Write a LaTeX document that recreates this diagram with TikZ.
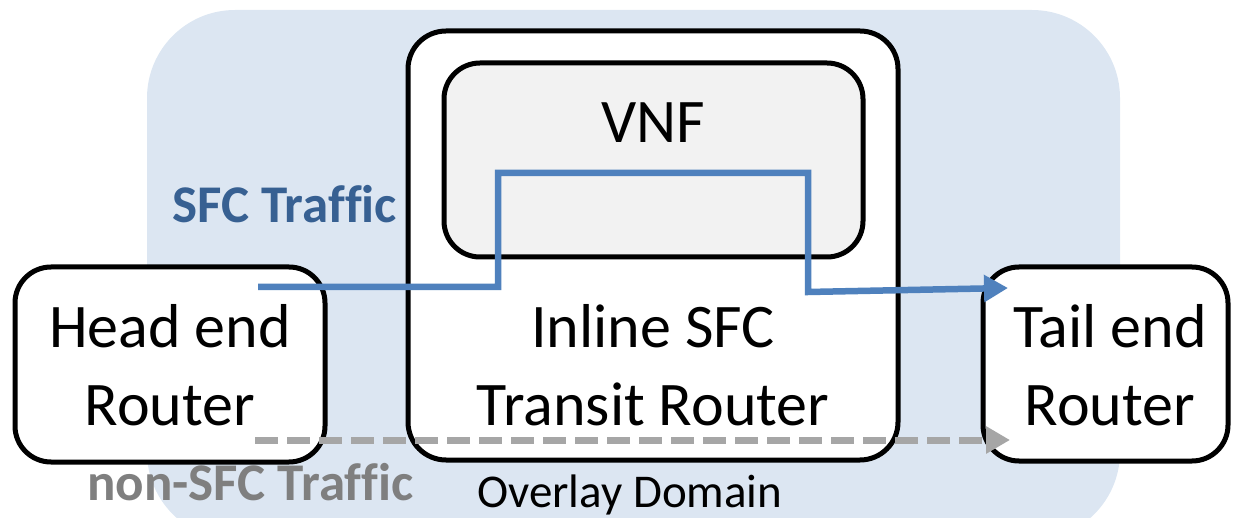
\documentclass[tikz,border=0pt]{standalone}
\usepackage{fontspec}
\setmainfont{Carlito}[Ligatures=CommonOff]
\usetikzlibrary{arrows.meta}

\definecolor{domainfill}{HTML}{DCE6F2}
\definecolor{vnffill}{HTML}{F2F2F2}
\definecolor{sfcblue}{HTML}{4F81BD}
\definecolor{sfctext}{HTML}{376092}
\definecolor{plaingray}{HTML}{A6A6A6}
\definecolor{plaintext}{HTML}{7F7F7F}

\tikzset{
  box/.style={draw=black, line width=5pt, fill=white, inner sep=0pt},
  lbl/.style={font=\fontsize{62}{77}\selectfont, anchor=base, inner sep=0pt},
  tag/.style={font=\fontsize{53}{62}\selectfont\bfseries, anchor=base west, inner sep=0pt},
  sfcpath/.style={draw=sfcblue, line width=6.5pt, -{Triangle[length=24pt,width=26pt]}},
  plainpath/.style={draw=plaingray, line width=7pt, dash pattern=on 23pt off 9pt,
    -{Triangle[length=24pt,width=26pt]}}
}

\begin{document}
\begin{tikzpicture}[x=1pt, y=-1pt]
  \useasboundingbox (0,0) rectangle (1234,518);
  \clip (0,0) rectangle (1234,518);

  % overlay domain backdrop
  \fill[domainfill, rounded corners=88pt] (147,10) rectangle (1120,540);

  % routers
  \node[box, rounded corners=38pt, minimum width=490pt, minimum height=429pt]
    (transit) at (653,245.5) {};
  \node[box, fill=vnffill, rounded corners=36pt, minimum width=419pt, minimum height=194pt]
    (vnf) at (653.5,160) {};
  \node[box, rounded corners=36pt, minimum width=310pt, minimum height=195pt]
    (head) at (170,364.5) {};
  \node[box, rounded corners=36pt, minimum width=245pt, minimum height=194pt]
    (tail) at (1105.5,364) {};

  % box labels
  \node[lbl] (vnfa) at (653,143) {VNF};
  \node[lbl] (heada) at (170,348) {Head end};
  \node[lbl] (headb) at (170,425) {Router};
  \node[lbl] (transa) at (653,348) {Inline SFC};
  \node[lbl] (transb) at (653,425) {Transit Router};
  \node[lbl] (taila) at (1110,348) {Tail end};
  \node[lbl] (tailb) at (1110,425) {Router};

  % traffic paths
  \coordinate (sfcstart) at (258,287);
  \coordinate (sfcend) at (1008,288);
  \coordinate (plainstart) at (255,440);
  \coordinate (plainend) at (1010,440);

  \draw[sfcpath] (sfcstart) -- (498,287) -- (498,173) -- (808,173)
    -- (808,292) -- (sfcend);
  \draw[plainpath] (plainstart) -- (plainend);

  % legend texts
  \node[tag, text=sfctext] (sfclbl) at (172,223) {SFC Traffic};
  \node[tag, text=plaintext] (plainlbl) at (87,500) {non-SFC Traffic};
  \node[font=\fontsize{47}{56}\selectfont, anchor=base west, inner sep=0pt]
    (domainlbl) at (477,507) {Overlay Domain};
\end{tikzpicture}
\end{document}
